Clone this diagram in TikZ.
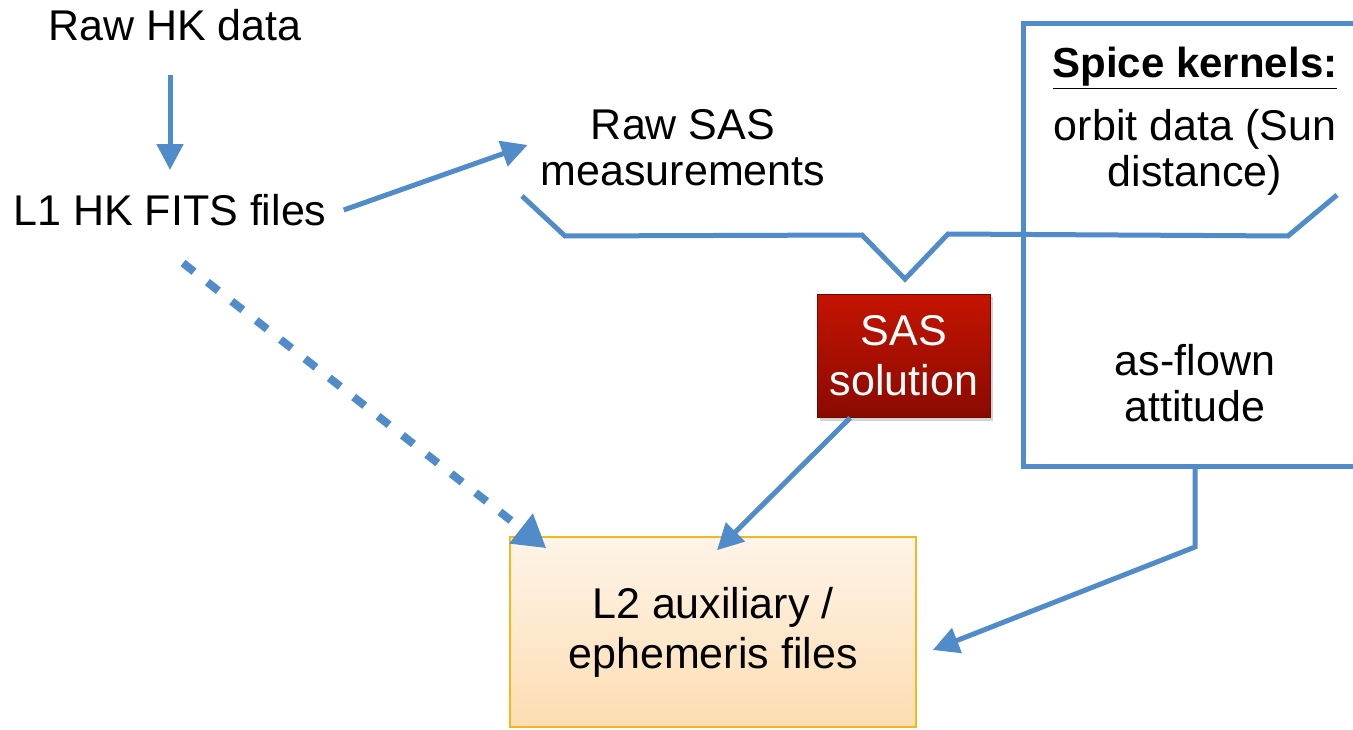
\documentclass[tikz,border=0pt]{standalone}
\usepackage{fontspec}
\setmainfont{Liberation Sans}
\usetikzlibrary{arrows.meta,calc,shadows}
\definecolor{flow}{RGB}{79,140,201}
\definecolor{soltop}{RGB}{196,20,0}
\definecolor{solbot}{RGB}{138,10,0}
\definecolor{auxtop}{RGB}{254,244,232}
\definecolor{auxbot}{RGB}{253,221,178}
\definecolor{auxline}{RGB}{244,184,30}
\begin{document}
\begin{tikzpicture}[x=1pt,y=-1pt,
  txt/.style={font=\fontsize{43}{46}\selectfont, align=center, inner sep=0pt},
  boxtxt/.style={txt, font=\fontsize{43}{50}\selectfont},
  link/.style={draw=flow, line width=5pt},
  arr/.style={link, -{Triangle[length=26pt,width=26pt]}},
  dasharr/.style={draw=flow, line width=8pt, dash pattern=on 14pt off 17pt,
    -{Triangle[length=32pt,width=36pt]}},
  solbox/.style={boxtxt, text=white, draw=solbot!80!black, line width=0.6pt,
    top color=soltop, bottom color=solbot, minimum width=173pt, minimum height=123pt,
    drop shadow={opacity=0.35, shadow xshift=2pt, shadow yshift=-3pt}},
  auxbox/.style={boxtxt, draw=auxline, line width=1.6pt,
    top color=auxtop, bottom color=auxbot, minimum width=406pt, minimum height=190pt}]
\useasboundingbox (0,0) rectangle (1353,730);

% text nodes
\node[txt] (raw) at (175,25) {Raw HK data};
\node[txt] (l1) at (170,210) {L1 HK FITS files};
\node[txt] (sas) at (683,148) {Raw SAS\\measurements};
\node[solbox] (sol) at (904,356) {SAS\\solution};
\node[auxbox] (l2) at (713,632) {L2 auxiliary /\\ephemeris files};

% Spice kernel panel (open on the right)
\coordinate (ktl) at (1023,24);
\coordinate (kbl) at (1023,466);
\coordinate (kbot) at (1195,466);
\draw[link] (1365,24) -- (ktl) -- (kbl) -- (1365,466);
\node[txt, font=\bfseries\fontsize{42}{46}\selectfont] (spice) at (1195,68) {\underline{Spice kernels:}};
\node[txt] (orbit) at (1195,152) {orbit data (Sun\\distance)};
\node[txt] (att) at (1195,383) {as-flown\\attitude};

% bracket joining the two inputs into the SAS solution
\coordinate (b1) at (522,196);
\coordinate (b2) at (565,236);
\coordinate (b3) at (862,235);
\coordinate (apex) at (905,279);
\coordinate (b4) at (948,234);
\coordinate (b5) at (1288,236);
\coordinate (b6) at (1337,195);
\draw[link, line join=miter] (b1) -- (b2) -- (b3) -- (apex) -- (b4) -- (b5) -- (b6);

% connectors
\draw[arr] ($(l1.north)+(0,-119)$) -- ($(l1.north)+(0,-24)$);
\draw[arr] ($(l1.east)+(17,0)$) -- ($(sas.west)+(-13,-3)$);
\draw[dasharr] ($(l1.south)+(13,37)$) -- ($(l2.north west)+(37,12)$);
\draw[arr] ($(sol.south west)+(33,0)$) -- ($(l2.north)+(4,14)$);
\draw[arr] (kbot) -- ++(0,81) -- ($(l2.east)+(16,18)$);
\end{tikzpicture}
\end{document}
